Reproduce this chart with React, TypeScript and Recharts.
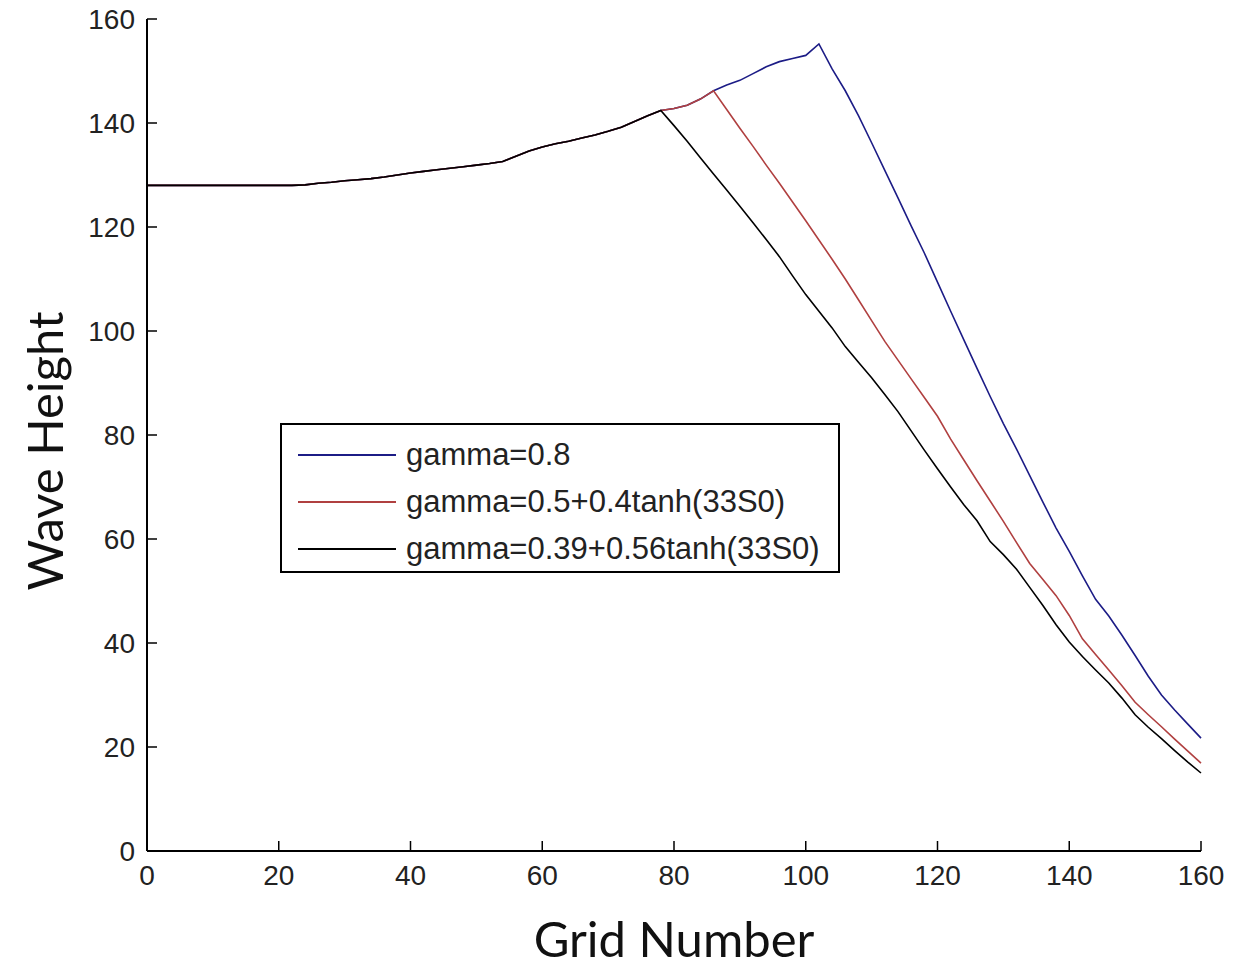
import React from "react";
import { LineChart, Line, XAxis, YAxis, Legend } from "recharts";

// grid numbers sampled every 2 cells
const gridNumbers = [
  0, 2, 4, 6, 8, 10, 12, 14, 16, 18, 20, 22, 24, 26, 28, 30, 32, 34, 36, 38,
  40, 42, 44, 46, 48, 50, 52, 54, 56, 58, 60, 62, 64, 66, 68, 70, 72, 74, 76, 78,
  80, 82, 84, 86, 88, 90, 92, 94, 96, 98, 100, 102, 104, 106, 108, 110, 112, 114, 116, 118,
  120, 122, 124, 126, 128, 130, 132, 134, 136, 138, 140, 142, 144, 146, 148, 150, 152, 154, 156, 158,
  160,
];

// gamma = 0.8
const heightBlue = [
  128, 128, 128, 128, 128, 128, 128, 128, 128, 128, 128, 128, 128.1, 128.4, 128.6, 128.9, 129.1, 129.3, 129.6, 130.0,
  130.4, 130.7, 131.0, 131.3, 131.6, 131.9, 132.2, 132.6, 133.6, 134.6, 135.4, 136.0, 136.5, 137.1, 137.7, 138.4, 139.2, 140.3, 141.4, 142.4,
  142.8, 143.4, 144.6, 146.2, 147.3, 148.2, 149.5, 150.8, 151.8, 152.4, 153.0, 155.2, 150.4, 146.2, 141.4, 136.2, 130.9, 125.6, 120.2, 115.0,
  109.4, 103.8, 98.3, 92.8, 87.4, 82.2, 77.3, 72.2, 67.1, 62.1, 57.6, 52.9, 48.4, 45.2, 41.5, 37.6, 33.6, 30.0, 27.1, 24.4,
  21.7,
];

// gamma = 0.5 + 0.4 tanh(33 S0)
const heightRed = [
  128, 128, 128, 128, 128, 128, 128, 128, 128, 128, 128, 128, 128.1, 128.4, 128.6, 128.9, 129.1, 129.3, 129.6, 130.0,
  130.4, 130.7, 131.0, 131.3, 131.6, 131.9, 132.2, 132.6, 133.6, 134.6, 135.4, 136.0, 136.5, 137.1, 137.7, 138.4, 139.2, 140.3, 141.4, 142.4,
  142.8, 143.4, 144.6, 146.2, 142.6, 139.0, 135.5, 131.9, 128.4, 124.8, 121.2, 117.5, 113.8, 110.0, 106.0, 102.0, 98.0, 94.4, 90.8, 87.2,
  83.6, 79.2, 75.2, 71.2, 67.3, 63.4, 59.3, 55.3, 52.2, 49.1, 45.3, 40.8, 37.8, 34.8, 31.8, 28.6, 26.2, 23.9, 21.5, 19.2,
  16.9,
];

// gamma = 0.39 + 0.56 tanh(33 S0)
const heightBlack = [
  128, 128, 128, 128, 128, 128, 128, 128, 128, 128, 128, 128, 128.1, 128.4, 128.6, 128.9, 129.1, 129.3, 129.6, 130.0,
  130.4, 130.7, 131.0, 131.3, 131.6, 131.9, 132.2, 132.6, 133.6, 134.6, 135.4, 136.0, 136.5, 137.1, 137.7, 138.4, 139.2, 140.3, 141.4, 142.4,
  139.5, 136.5, 133.3, 130.2, 127.1, 124.0, 120.8, 117.6, 114.3, 110.6, 107.0, 103.8, 100.6, 97.0, 94.0, 91.0, 87.8, 84.5, 80.8, 77.1,
  73.5, 70.0, 66.6, 63.5, 59.5, 57.0, 54.2, 50.7, 47.2, 43.5, 40.2, 37.4, 34.8, 32.3, 29.4, 26.2, 23.8, 21.6, 19.3, 17.1,
  15.0,
];

const xTicks = [0, 20, 40, 60, 80, 100, 120, 140, 160];
const yTicks = [0, 20, 40, 60, 80, 100, 120, 140, 160];

const seriesKeys = ["blue", "red", "black"];
const seriesNames = [
  "gamma=0.8",
  "gamma=0.5+0.4tanh(33S0)",
  "gamma=0.39+0.56tanh(33S0)",
];
const seriesColors = ["#1c1c86", "#b04040", "#000000"];

const data = gridNumbers.map((x, i) => ({
  x,
  blue: heightBlue[i],
  red: heightRed[i],
  black: heightBlack[i],
}));

const tickFont = "'Liberation Sans', Arial, sans-serif";
const titleFont = "Lato, 'Open Sans', sans-serif";
const TICK_LEN = 10;

const LeftTick = (props: any) => {
  const { x, y, payload } = props;
  return (
    <g>
      <line x1={x + 12} x2={x + 12 + TICK_LEN} y1={y} y2={y} stroke="#000" strokeWidth={1.5} />
      <text x={x} y={y} dy="0.36em" textAnchor="end" fontSize={28} fill="#222" fontFamily={tickFont}>
        {payload.value}
      </text>
    </g>
  );
};

const BottomTick = (props: any) => {
  const { x, y, payload } = props;
  return (
    <g>
      <line x1={x} x2={x} y1={y - 14} y2={y - 14 - TICK_LEN} stroke="#000" strokeWidth={1.5} />
      <text x={x} y={y} dy="0.72em" textAnchor="middle" fontSize={28} fill="#222" fontFamily={tickFont}>
        {payload.value}
      </text>
    </g>
  );
};

const TopTick = (props: any) => {
  const { x, y } = props;
  return <line x1={x} x2={x} y1={y} y2={y + TICK_LEN} stroke="#000" strokeWidth={1.5} />;
};

const RightTick = (props: any) => {
  const { x, y } = props;
  return <line x1={x} x2={x - TICK_LEN} y1={y} y2={y} stroke="#000" strokeWidth={1.5} />;
};

const YTitle = (props: any) => {
  const { viewBox } = props;
  const cy = viewBox.y + viewBox.height / 2 + 16;
  return (
    <text
      x={44}
      y={cy}
      transform={`rotate(-90, 44, ${cy})`}
      textAnchor="middle"
      dominantBaseline="central"
      fontSize={49}
      fill="#111"
      fontFamily={titleFont}
    >
      Wave Height
    </text>
  );
};

const XTitle = (props: any) => {
  const { viewBox } = props;
  const cx = viewBox.x + viewBox.width / 2;
  return (
    <text
      x={cx}
      y={viewBox.y + 106}
      textAnchor="middle"
      fontSize={49}
      fill="#111"
      fontFamily={titleFont}
    >
      Grid Number
    </text>
  );
};

const LegendBox = () => (
  <div
    style={{
      border: "2px solid #000",
      background: "#fff",
      width: 560,
      height: 150,
      boxSizing: "border-box",
      padding: "6px 0 0 16px",
      fontFamily: tickFont,
      fontSize: 31,
      color: "#222",
    }}
  >
    {seriesNames.map((name, i) => (
      <div key={name} style={{ display: "flex", alignItems: "center", height: 47 }}>
        <div style={{ width: 98, height: 0, borderTop: `2px solid ${seriesColors[i]}`, marginRight: 10 }} />
        <span style={{ whiteSpace: "nowrap" }}>{name}</span>
      </div>
    ))}
  </div>
);

export default function App() {
  return (
    <div style={{ position: "absolute", left: 0, top: 0, background: "#fff" }}>
      <LineChart
        width={1239}
        height={966}
        data={data}
        margin={{ top: 19, right: 38, bottom: 0, left: 0 }}
      >
        <XAxis
          dataKey="x"
          type="number"
          domain={[0, 160]}
          ticks={xTicks}
          height={115}
          tickSize={0}
          tickMargin={14}
          tickLine={false}
          axisLine={{ stroke: "#000", strokeWidth: 2 }}
          tick={<BottomTick />}
          interval={0}
          label={<XTitle />}
        />
        <XAxis
          xAxisId="top"
          dataKey="x"
          type="number"
          orientation="top"
          domain={[0, 160]}
          ticks={xTicks}
          height={0}
          tickSize={0}
          tickMargin={0}
          tickLine={false}
          axisLine={{ stroke: "#000", strokeWidth: 2 }}
          tick={<TopTick />}
          interval={0}
        />
        <YAxis
          type="number"
          domain={[0, 160]}
          ticks={yTicks}
          width={147}
          tickSize={0}
          tickMargin={12}
          tickLine={false}
          axisLine={{ stroke: "#000", strokeWidth: 2 }}
          tick={<LeftTick />}
          interval={0}
          label={<YTitle />}
        />
        <YAxis
          yAxisId="right"
          type="number"
          orientation="right"
          domain={[0, 160]}
          ticks={yTicks}
          width={0}
          tickSize={0}
          tickMargin={0}
          tickLine={false}
          axisLine={{ stroke: "#000", strokeWidth: 2 }}
          tick={<RightTick />}
          interval={0}
        />
        <Legend
          layout="vertical"
          align="center"
          verticalAlign="middle"
          content={<LegendBox />}
          wrapperStyle={{ position: "absolute", left: 280, top: 423, width: 560, height: 150 }}
        />
        {seriesKeys.map((k, i) => (
          <Line
            key={k}
            dataKey={k}
            name={seriesNames[i]}
            stroke={seriesColors[i]}
            strokeWidth={1.6}
            dot={false}
            isAnimationActive={false}
          />
        ))}
      </LineChart>
    </div>
  );
}
